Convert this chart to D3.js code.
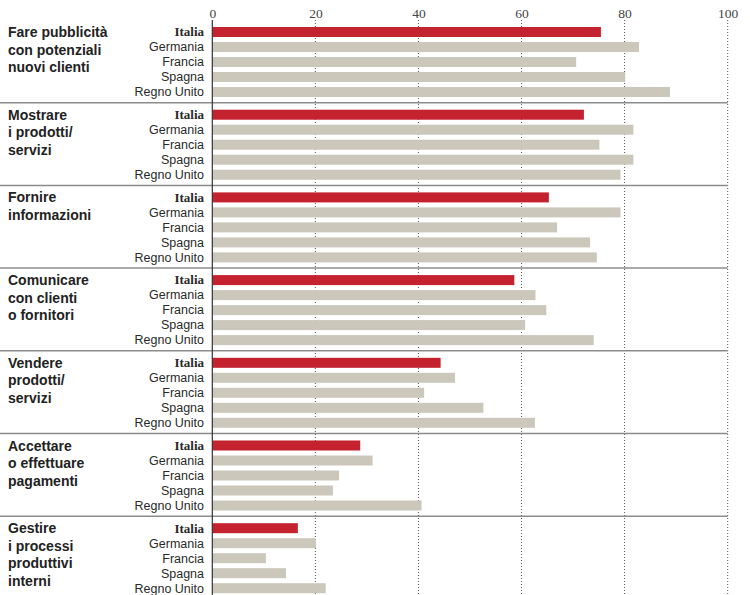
<!DOCTYPE html>
<html><head><meta charset="utf-8">
<script src="https://cdn.jsdelivr.net/npm/d3@7"></script>
<style>body{margin:0;background:#fff}</style>
</head><body><svg id="c" width="750" height="595"></svg>
<script>
const categories = [
  "Fare pubblicità\ncon potenziali\nnuovi clienti",
  "Mostrare\ni prodotti/\nservizi",
  "Fornire\ninformazioni",
  "Comunicare\ncon clienti\no fornitori",
  "Vendere\nprodotti/\nservizi",
  "Accettare\no effettuare\npagamenti",
  "Gestire\ni processi\nproduttivi\ninterni"
];
const countries = ["Italia", "Germania", "Francia", "Spagna", "Regno Unito"];
const italia     = [75.4, 72.1, 65.3, 58.6, 44.3, 28.7, 16.6];
const germania   = [82.8, 81.7, 79.2, 62.7, 47.1, 31.1, 20.1];
const francia    = [70.6, 75.1, 66.9, 64.8, 41.1, 24.6, 10.4];
const spagna     = [80.1, 81.7, 73.3, 60.7, 52.6, 23.4, 14.3];
const regnoUnito = [88.8, 79.2, 74.6, 74.0, 62.6, 40.6, 22.0];
const tickValues = [0, 20, 40, 60, 80, 100];

const seriesByCountry = [italia, germania, francia, spagna, regnoUnito];
const data = [];
categories.forEach((c, gi) => countries.forEach((k, ci) =>
  data.push({cat: c, gi, country: k, value: seriesByCountry[ci][gi]})));

const svg = d3.select("#c");
const W = 750, H = 595;
const top0 = 20, groupH = 82.7;
const x = d3.scaleLinear().domain([0, 100]).range([212.3, 727.7]);
const y = d3.scaleBand().domain(categories).range([top0, top0 + groupH * categories.length]).padding(0);
const yi = d3.scaleBand().domain(countries).range([4.5, 79.5]).paddingInner(0.333).paddingOuter(0.1665);

// gridlines
svg.append("g").selectAll("line").data(tickValues.filter(d => d > 0)).join("line")
  .attr("x1", d => x(d)).attr("x2", d => x(d))
  .attr("y1", top0).attr("y2", H)
  .attr("stroke", "#555").attr("stroke-width", 1).attr("stroke-dasharray", "1,2");

// tick labels
const axis = d3.axisTop(x).tickValues(tickValues).tickSize(0).tickPadding(0).tickFormat(d3.format("d"));
const ag = svg.append("g").attr("transform", "translate(0,18)").call(axis);
ag.select(".domain").remove();
ag.selectAll("text").attr("font-family", "Liberation Serif, DejaVu Serif, serif")
  .attr("font-size", 13.5).attr("fill", "#444").attr("dy", 0);

// separators
svg.append("g").selectAll("line").data(categories.slice(1)).join("line")
  .attr("x1", 0).attr("x2", x(100))
  .attr("y1", d => y(d)).attr("y2", d => y(d))
  .attr("stroke", "#8c8c8c").attr("stroke-width", 1.5);

// bars
svg.append("g").selectAll("rect").data(data).join("rect")
  .attr("x", x(0))
  .attr("y", d => y(d.cat) + yi(d.country))
  .attr("width", d => x(d.value) - x(0))
  .attr("height", yi.bandwidth())
  .attr("fill", d => d.country === "Italia" ? "#c4222e" : "#ccc7bb");

// zero axis
svg.append("line").attr("x1", x(0)).attr("x2", x(0)).attr("y1", top0).attr("y2", H)
  .attr("stroke", "#333").attr("stroke-width", 1.2);

// country labels
svg.append("g").selectAll("text").data(data).join("text")
  .attr("x", 204)
  .attr("y", d => y(d.cat) + yi(d.country) + yi.bandwidth() / 2 + 4.3)
  .attr("text-anchor", "end")
  .attr("font-family", d => d.country === "Italia" ? "Liberation Serif, serif" : "Liberation Sans, sans-serif")
  .attr("font-weight", d => d.country === "Italia" ? 700 : 400)
  .attr("font-size", d => d.country === "Italia" ? 13 : 12.5)
  .attr("fill", "#2a2a2a")
  .text(d => d.country);

// group labels
const gl = svg.append("g").selectAll("text").data(categories).join("text")
  .attr("x", 8).attr("y", d => y(d) + 17)
  .attr("font-family", "Liberation Sans, sans-serif").attr("font-weight", 700)
  .attr("font-size", 14).attr("fill", "#222");
gl.selectAll("tspan").data(d => d.split("\n")).join("tspan")
  .attr("x", 8).attr("dy", (d, i) => i === 0 ? 0 : 17.5).text(d => d);
</script></body></html>
